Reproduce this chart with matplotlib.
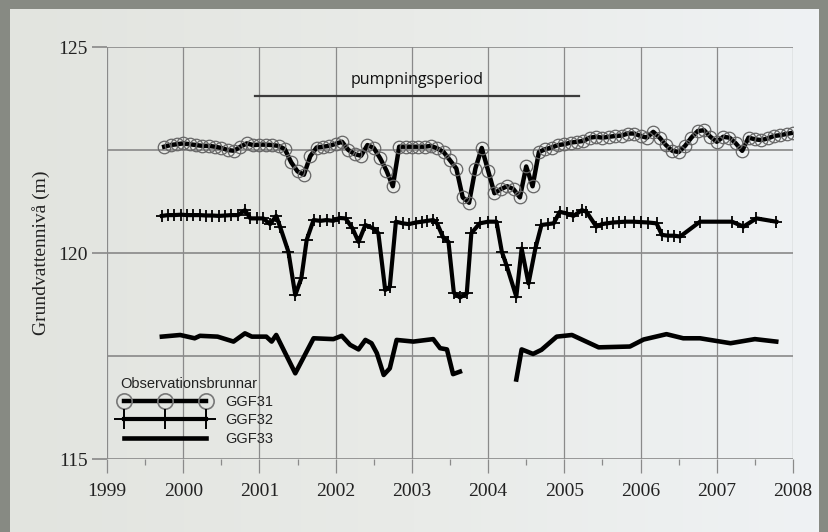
import numpy as np
import matplotlib
matplotlib.use("Agg")
import matplotlib.pyplot as plt
from matplotlib.colors import LinearSegmentedColormap
from matplotlib.lines import Line2D

# ---------------- data ----------------
# GGF31: monthly observations from 1999.75 to 2008.0
ggf31_start = 1999.75
ggf31_values = [
    122.58, 122.62, 122.64,
    122.66, 122.64, 122.62, 122.60, 122.60, 122.58, 122.55, 122.50, 122.48, 122.58, 122.66, 122.62,
    122.63, 122.63, 122.62, 122.60, 122.52, 122.20, 121.98, 121.90, 122.35, 122.56, 122.58, 122.60,
    122.65, 122.70, 122.50, 122.40, 122.36, 122.62, 122.55, 122.30, 122.00, 121.62, 122.58, 122.58,
    122.58, 122.58, 122.58, 122.60, 122.54, 122.45, 122.25, 122.05, 121.35, 121.22, 122.05, 122.55,
    122.00, 121.45, 121.55, 121.62, 121.55, 121.35, 122.10, 121.62, 122.45, 122.52, 122.56, 122.62,
    122.64, 122.68, 122.70, 122.72, 122.80, 122.82, 122.80, 122.82, 122.84, 122.85, 122.90, 122.90,
    122.84, 122.80, 122.94, 122.80, 122.62, 122.48, 122.45, 122.60, 122.80, 122.96, 122.98, 122.82,
    122.70, 122.82, 122.80, 122.66, 122.48, 122.80, 122.76, 122.74, 122.78, 122.84, 122.86, 122.89,
    122.92,
]
ggf31_years = ggf31_start + np.arange(len(ggf31_values)) / 12.0

ggf32_years = [
    1999.72, 1999.80, 1999.88, 1999.97, 2000.05, 2000.13, 2000.22, 2000.30, 2000.38, 2000.47,
    2000.55, 2000.63, 2000.72, 2000.81, 2000.88, 2000.97, 2001.05, 2001.14, 2001.22, 2001.27,
    2001.38, 2001.47, 2001.55, 2001.62, 2001.71, 2001.80, 2001.88, 2001.97, 2002.05, 2002.13,
    2002.22, 2002.30, 2002.39, 2002.49, 2002.56, 2002.65, 2002.71, 2002.79, 2002.88, 2002.96,
    2003.05, 2003.13, 2003.20, 2003.28, 2003.33, 2003.41, 2003.48, 2003.55, 2003.63, 2003.72,
    2003.78, 2003.89, 2004.00, 2004.11, 2004.18, 2004.24, 2004.37, 2004.44, 2004.53, 2004.62,
    2004.70, 2004.78, 2004.86, 2004.94, 2005.03, 2005.12, 2005.23, 2005.29, 2005.42, 2005.49,
    2005.56, 2005.64, 2005.72, 2005.80, 2005.91, 2006.00, 2006.10, 2006.21, 2006.28, 2006.36,
    2006.44, 2006.52, 2006.78, 2007.20, 2007.35, 2007.52, 2007.78,
]
ggf32_values = [
    120.90, 120.92, 120.92, 120.93, 120.92, 120.92, 120.92, 120.91, 120.91, 120.90,
    120.91, 120.92, 120.92, 121.04, 120.84, 120.84, 120.84, 120.70, 120.90, 120.64,
    120.03, 118.98, 119.39, 120.32, 120.80, 120.78, 120.80, 120.78, 120.85, 120.84,
    120.60, 120.27, 120.68, 120.60, 120.48, 119.10, 119.18, 120.76, 120.72, 120.70,
    120.74, 120.76, 120.78, 120.80, 120.72, 120.38, 120.27, 119.04, 118.92, 119.02,
    120.48, 120.72, 120.76, 120.76, 120.03, 119.71, 118.94, 120.11, 119.26, 120.11,
    120.68, 120.70, 120.72, 121.00, 120.96, 120.90, 121.04, 121.00, 120.64, 120.70,
    120.72, 120.74, 120.75, 120.76, 120.76, 120.75, 120.74, 120.72, 120.44, 120.42,
    120.42, 120.40, 120.76, 120.76, 120.64, 120.84, 120.76,
]

ggf33_years = [
    1999.72, 1999.96, 2000.15, 2000.22, 2000.45, 2000.66, 2000.81, 2000.90, 2001.09, 2001.16,
    2001.22, 2001.47, 2001.71, 2001.97, 2002.08, 2002.19, 2002.30, 2002.39, 2002.47, 2002.54,
    2002.63, 2002.71, 2002.80, 2003.02, 2003.28, 2003.37, 2003.46, 2003.54, 2003.63,
    2004.00,
    2004.37, 2004.44, 2004.59, 2004.70, 2004.90, 2005.10, 2005.45, 2005.86, 2006.04, 2006.34,
    2006.56, 2006.78, 2007.18, 2007.50, 2007.78,
]
ggf33_values = [
    117.97, 118.01, 117.93, 117.99, 117.97, 117.85, 118.05, 117.97, 117.97, 117.85,
    118.01, 117.08, 117.93, 117.91, 117.99, 117.77, 117.66, 117.89, 117.81, 117.57,
    117.04, 117.20, 117.89, 117.85, 117.91, 117.69, 117.66, 117.06, 117.12,
    np.nan,
    116.93, 117.66, 117.55, 117.65, 117.97, 118.01, 117.71, 117.73, 117.90, 118.03,
    117.93, 117.93, 117.81, 117.91, 117.85,
]

series_names = ["GGF31", "GGF32", "GGF33"]
pump_start, pump_end, pump_level = 2000.94, 2005.19, 123.81
pump_label = "pumpningsperiod"
x_ticks = list(range(1999, 2009))
y_ticks = [115, 120, 125]
y_grid = [115, 117.5, 120, 122.5, 125]

# ---------------- figure ----------------
fig = plt.figure(figsize=(8.29, 5.32), dpi=100, facecolor="#878a83")

# light panel (background)
bg = fig.add_axes([0, 0, 1, 1], zorder=-5)
bg.set_axis_off()
bg.set_xlim(0, 1); bg.set_ylim(0, 1)
cmap = LinearSegmentedColormap.from_list("pan", ["#e2e4df", "#e9ebe8", "#eff2f4"])
grad = np.linspace(0, 1, 256).reshape(1, -1)
bg.imshow(grad, cmap=cmap, extent=[10/829, 819/829, 0, 1 - 9/532],
          aspect="auto", zorder=0)

ax = fig.add_axes([107/829, 1 - 459/532, 686/829, 412/532])
ax.set_facecolor("none")
ax.set_xlim(1999, 2008)
ax.set_ylim(115, 125)
for s in ax.spines.values():
    s.set_visible(False)

# grid
for yv in y_grid:
    ax.axhline(yv, color="#808080", lw=1.1, zorder=1)
for xv in x_ticks:
    ax.axvline(xv, color="#8a8a8a", lw=0.9, zorder=1)

serif = "Liberation Serif"
ax.set_xticks(x_ticks)
ax.set_xticklabels([str(t) for t in x_ticks], fontfamily=serif, fontsize=14, color="#222222")
ax.set_xticks([t + 0.5 for t in x_ticks[:-1]], minor=True)
ax.set_yticks(y_ticks)
ax.set_yticklabels([str(t) for t in y_ticks], fontfamily=serif, fontsize=14, color="#222222")
ax.tick_params(axis="x", which="major", length=10, width=0.9, color="#8a8a8a", pad=7)
ax.tick_params(axis="x", which="minor", length=4, width=0.9, color="#8a8a8a")
ax.tick_params(axis="y", which="major", length=11, width=1.1, color="#808080", pad=3)
ax.set_ylabel("Grundvattennivå (m)", fontfamily=serif, fontsize=14, color="#222222", labelpad=6)

# series
ax.plot(ggf31_years, ggf31_values, color="black", lw=3.2, marker="o", ms=9,
        mfc="none", mec="#666666", mew=0.9, zorder=4, label=series_names[0])
ax.plot(ggf32_years, ggf32_values, color="black", lw=3.0, marker="+", ms=8,
        mec="black", mew=1.3, zorder=4, label=series_names[1])
ax.plot(ggf33_years, ggf33_values, color="black", lw=3.3, zorder=4,
        label=series_names[2])

# pumping period
ax.plot([pump_start, pump_end], [pump_level, pump_level], color="#3c3c3c", lw=1.6, zorder=3)
ax.text((pump_start + pump_end) / 2, 124.2, pump_label, ha="center", va="center",
        fontfamily="Open Sans", fontsize=11.5, color="#111111")

# legend
h1 = Line2D([], [], color="black", lw=3.2, marker="o", ms=11, mfc="none", mec="#777777", mew=1.2)
h2 = Line2D([], [], color="black", lw=3.0, marker="+", ms=14, mec="black", mew=1.4)
h3 = Line2D([], [], color="black", lw=3.3)
leg = ax.legend([h1, h2, h3], series_names, title="Observationsbrunnar",
                loc="upper left", bbox_to_anchor=(0.019, 0.200), frameon=False,
                numpoints=3, handlelength=6.2, handletextpad=1.0, labelspacing=0.3,
                borderpad=0, borderaxespad=0, alignment="left",
                prop={"family": "Liberation Sans", "size": 10.5},
                title_fontproperties={"family": "Liberation Sans", "size": 10.5})
leg.get_title().set_color("#222222")
for t in leg.get_texts():
    t.set_color("#222222")

fig.savefig("out.png", dpi=100, facecolor=fig.get_facecolor())
